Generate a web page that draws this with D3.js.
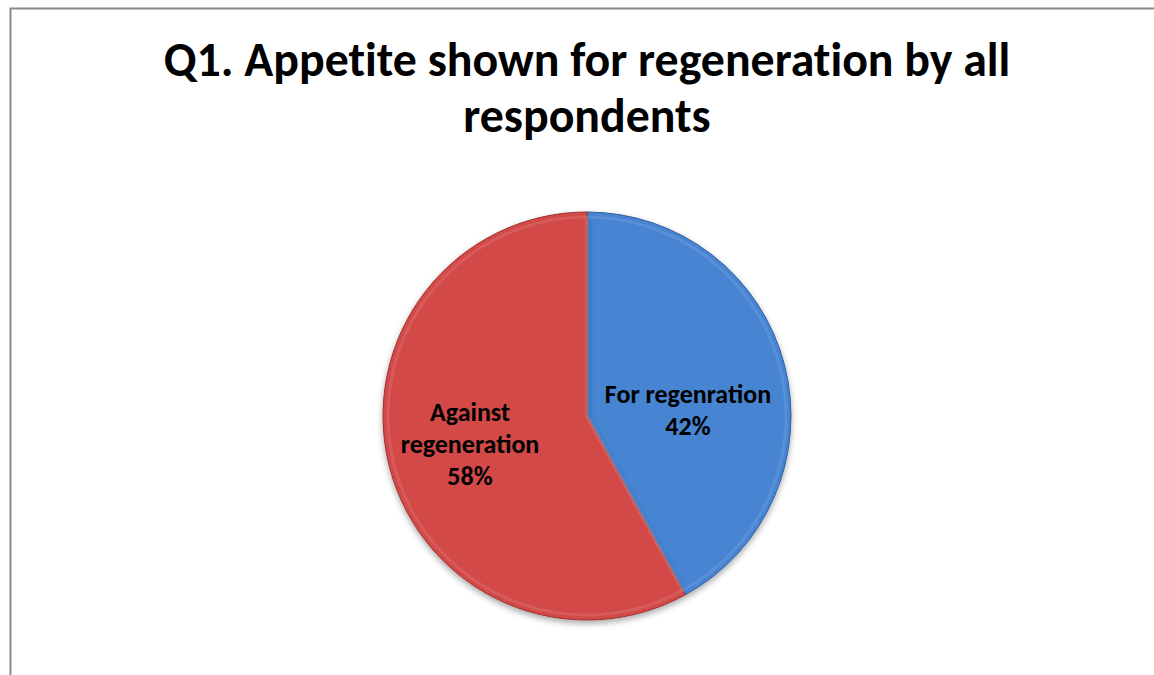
<!DOCTYPE html>
<html><head><meta charset="utf-8">
<script src="https://cdn.jsdelivr.net/npm/d3@7"></script>
<style>body{margin:0;background:#fff;}svg{display:block;}</style>
</head><body>
<svg id="c" width="1154" height="675"></svg>
<script>
const titleLines = ["Q1. Appetite shown for regeneration by all", "respondents"];
const categories = ["For regenration", "Against regeneration"];
const values = [42, 58];
const labelLines = [["For regenration", "42%"], ["Against", "regeneration", "58%"]];
const colors = ["#3d78c5", "#c43f3f"];
const darkColors = ["#2f5e9e", "#9d3030"];
const lightColors = ["#4684d1", "#d24847"];

const svg = d3.select("#c");
const W = 1154, H = 675;
svg.append("rect").attr("x", 10.5).attr("y", 8.5).attr("width", W).attr("height", H)
  .attr("fill", "#fff").attr("stroke", "#8a8a8a").attr("stroke-width", 2);

const font = "Carlito, Calibri, 'Open Sans', sans-serif";
const tLines = svg.append("g").selectAll("text").data(titleLines).join("text")
  .attr("x", 587).attr("y", (d, i) => 76 + i * 56)
  .attr("text-anchor", "middle").attr("font-family", font)
  .attr("font-weight", "bold").attr("font-size", 40).attr("fill", "#000")
  .style("font-variant-ligatures", "none")
  .text(d => d);
const w0 = tLines.nodes()[0].getComputedTextLength();
tLines.attr("font-size", 40 * 847 / w0);

const cx = 587, cy = 416, r = 204;
const defs = svg.append("defs");
colors.forEach((c, i) => {
  const g = defs.append("linearGradient").attr("id", "g" + i)
    .attr("gradientUnits", "userSpaceOnUse")
    .attr("x1", 0).attr("y1", cy - r).attr("x2", 0).attr("y2", cy + r);
  g.append("stop").attr("offset", "0%").attr("stop-color", lightColors[i]);
  g.append("stop").attr("offset", "50%").attr("stop-color", colors[i]);
  g.append("stop").attr("offset", "100%").attr("stop-color", darkColors[i]);
});
const sh = defs.append("filter").attr("id", "sh").attr("x", "-20%").attr("y", "-20%").attr("width", "140%").attr("height", "140%");
sh.append("feGaussianBlur").attr("in", "SourceAlpha").attr("stdDeviation", 3);
sh.append("feOffset").attr("dx", 0).attr("dy", 3).attr("result", "b");
sh.append("feComponentTransfer").append("feFuncA").attr("type", "linear").attr("slope", 0.35);
const m = sh.append("feMerge");
m.append("feMergeNode");
m.append("feMergeNode").attr("in", "SourceGraphic");

const pie = d3.pie().sort(null).value(d => d);
const arcs = pie(values);
const arc = d3.arc().innerRadius(0).outerRadius(r);
const inner = d3.arc().innerRadius(0).outerRadius(r - 5);
const g = svg.append("g").attr("transform", `translate(${cx},${cy})`);
g.selectAll("path.s").data(arcs).join("path").attr("class", "s")
  .attr("d", arc).attr("fill", (d, i) => `url(#g${i})`).attr("filter", "url(#sh)")
  .attr("stroke", (d, i) => darkColors[i]).attr("stroke-width", 1);
g.selectAll("path.b").data(arcs).join("path").attr("class", "b")
  .attr("d", inner).attr("fill", "none")
  .attr("stroke", "rgba(255,255,255,0.10)").attr("stroke-width", 3);

const labelPos = [[688, 403], [470, 421]];
arcs.forEach((a, i) => {
  const t = g.append("text").attr("text-anchor", "middle")
    .attr("font-family", font).attr("font-weight", "bold").attr("font-size", 26).attr("fill", "#000");
  labelLines[i].forEach((ln, j) => {
    t.append("tspan").attr("x", labelPos[i][0] - cx).attr("y", labelPos[i][1] - cy + j * 32).text(ln);
  });
});
</script>
</body></html>
